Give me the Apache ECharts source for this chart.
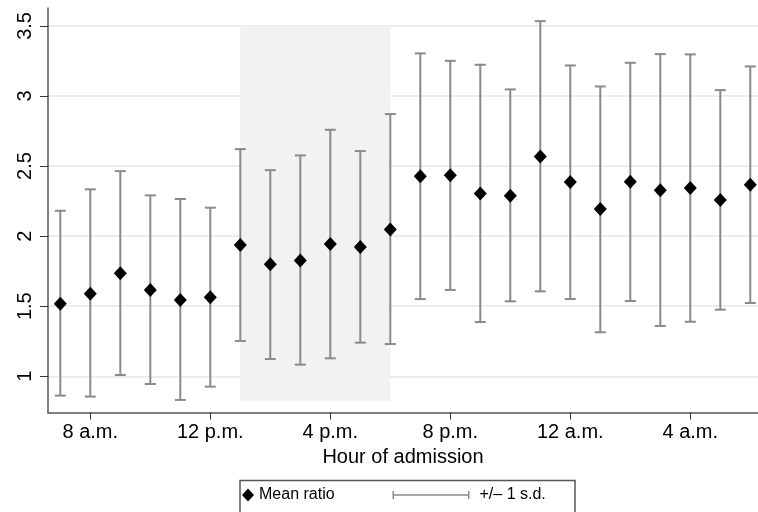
<!DOCTYPE html>
<html>
<head>
<meta charset="utf-8">
<script src="https://cdn.jsdelivr.net/npm/echarts@6/dist/echarts.min.js"></script>
<style>
html,body{margin:0;padding:0;background:#fff;}
#chart{width:758px;height:512px;}
</style>
</head>
<body>
<div id="chart"></div>
<script>
// Hour of admission (7 = 7 a.m., 24 = midnight, 30 = 6 a.m. next day)
const hours = [7, 8, 9, 10, 11, 12, 13, 14, 15, 16, 17, 18, 19, 20, 21, 22, 23, 24, 25, 26, 27, 28, 29, 30];
const meanRatio = [1.518, 1.589, 1.735, 1.616, 1.544, 1.563, 1.937, 1.799, 1.827, 1.944, 1.922, 2.048,
                   2.427, 2.434, 2.305, 2.288, 2.569, 2.386, 2.193, 2.388, 2.327, 2.343, 2.258, 2.367];
const sdLow = [0.862, 0.855, 1.009, 0.945, 0.831, 0.926, 1.252, 1.123, 1.083, 1.128, 1.240, 1.230,
               1.551, 1.616, 1.387, 1.535, 1.606, 1.551, 1.314, 1.537, 1.359, 1.389, 1.475, 1.523];
const sdHigh = [2.181, 2.334, 2.464, 2.291, 2.265, 2.203, 2.621, 2.471, 2.576, 2.759, 2.607, 2.871,
                3.304, 3.251, 3.223, 3.047, 3.534, 3.218, 3.068, 3.237, 3.299, 3.297, 3.042, 3.211];
const xTickValues = [8, 12, 16, 20, 24, 28];
const xTickLabels = ['8 a.m.', '12 p.m.', '4 p.m.', '8 p.m.', '12 a.m.', '4 a.m.'];
const yTickValues = [1, 1.5, 2, 2.5, 3, 3.5];
const yTickLabels = ['1', '1.5', '2', '2.5', '3', '3.5'];
const shadeHours = [13, 18];
const shadeRange = [0.826, 3.5];
const seriesNames = ['Mean ratio', '+/\u2013 1 s.d.'];

const FONT = "'Liberation Sans', Arial, Helvetica, sans-serif";
const chart = echarts.init(document.getElementById('chart'), null, {renderer: 'canvas'});

const option = {
  animation: false,
  backgroundColor: '#fff',
  textStyle: {fontFamily: FONT},
  grid: {left: 48, right: 0, top: 8, bottom: 99.3, containLabel: false},
  xAxis: {
    type: 'value', min: 6.59, max: 30.257,
    axisLine: {show: true, onZero: false, lineStyle: {color: '#555', width: 1.5}},
    axisTick: {show: true, length: 7, customValues: xTickValues, lineStyle: {color: '#333', width: 1}},
    axisLabel: {
      customValues: xTickValues, margin: 10, fontSize: 20, color: '#000', fontFamily: FONT,
      formatter: v => { const i = xTickValues.indexOf(v); return i >= 0 ? xTickLabels[i] : ''; }
    },
    splitLine: {show: false},
    name: 'Hour of admission', nameLocation: 'middle', nameGap: 29,
    nameTextStyle: {fontSize: 20, color: '#000', fontFamily: FONT}
  },
  yAxis: {
    type: 'value', min: 0.74, max: 3.628,
    axisLine: {show: true, onZero: false, lineStyle: {color: '#555', width: 1.5}},
    axisTick: {show: true, length: 8, customValues: yTickValues, lineStyle: {color: '#333', width: 1}},
    axisLabel: {
      customValues: yTickValues, rotate: 90, margin: 13, fontSize: 20, color: '#000', fontFamily: FONT,
      formatter: v => { const i = yTickValues.indexOf(v); return i >= 0 ? yTickLabels[i] : ''; }
    },
    splitLine: {show: true, lineStyle: {color: '#e6e6e6', width: 1.5}}
  },
  legend: [
    {
      left: 242, top: 487, itemWidth: 12, itemHeight: 13, itemGap: 0, padding: 0,
      data: [{name: seriesNames[0], icon: 'diamond', itemStyle: {color: '#000', opacity: 1}}],
      textStyle: {fontSize: 16, color: '#000', fontFamily: FONT}
    },
    {
      left: 392.5, top: 487, itemWidth: 77, itemHeight: 8, itemGap: 0, padding: 0,
      data: [{
        name: seriesNames[1],
        icon: 'path://M0,0h1.5v8h-1.5z M0,3.25h77v1.5h-77z M75.5,0h1.5v8h-1.5z',
        itemStyle: {color: '#8a8a8a'}
      }],
      textStyle: {fontSize: 16, color: '#000', fontFamily: FONT, padding: [0, 0, 0, 5]}
    }
  ],
  graphic: [{
    type: 'rect', left: 237.5, top: 478, z: 0,
    shape: {width: 335, height: 40},
    style: {fill: 'none', stroke: '#555', lineWidth: 1.5}
  }],
  series: [
    {
      name: 'shade', type: 'line', data: [], z: 1, silent: true,
      markArea: {
        silent: true,
        itemStyle: {color: '#f2f2f2'},
        data: [[{xAxis: shadeHours[0], yAxis: shadeRange[0]}, {xAxis: shadeHours[1], yAxis: shadeRange[1]}]]
      }
    },
    {
      name: seriesNames[1], type: 'custom', z: 2,
      itemStyle: {color: '#8a8a8a'},
      data: hours.map((h, i) => [h, sdLow[i], sdHigh[i]]),
      encode: {x: 0, y: [1, 2]},
      renderItem: (params, api) => {
        const x = api.value(0);
        const lo = api.coord([x, api.value(1)]);
        const hi = api.coord([x, api.value(2)]);
        const cw = 5.5;
        const style = {stroke: '#8a8a8a', lineWidth: 2, fill: null};
        return {
          type: 'group',
          children: [
            {type: 'line', shape: {x1: lo[0], y1: lo[1], x2: hi[0], y2: hi[1]}, style},
            {type: 'line', shape: {x1: lo[0] - cw, y1: lo[1], x2: lo[0] + cw, y2: lo[1]}, style},
            {type: 'line', shape: {x1: hi[0] - cw, y1: hi[1], x2: hi[0] + cw, y2: hi[1]}, style}
          ]
        };
      }
    },
    {
      name: seriesNames[0], type: 'scatter', z: 3,
      symbol: 'diamond', symbolSize: [13, 14],
      itemStyle: {color: '#000', opacity: 1},
      data: hours.map((h, i) => [h, meanRatio[i]])
    }
  ]
};
chart.setOption(option);
</script>
</body>
</html>
